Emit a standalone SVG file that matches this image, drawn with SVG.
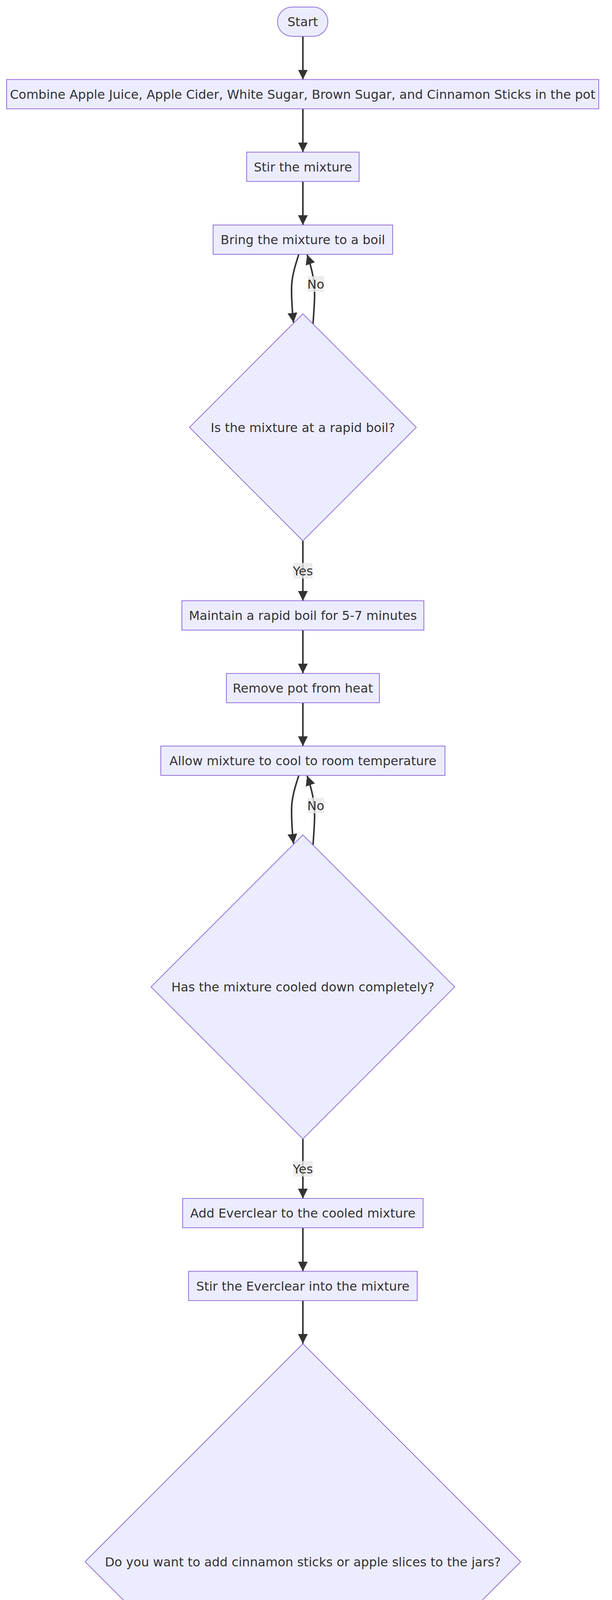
<svg xmlns="http://www.w3.org/2000/svg" width="1568" height="5416" viewBox="0 0 1568 5416">
<defs>
<marker id="arrow" viewBox="0 0 10 10" refX="10" refY="5" markerUnits="userSpaceOnUse" markerWidth="25" markerHeight="26" orient="auto">
<path d="M0,0 L10,5 L0,10 z" fill="#333333"/>
</marker>
</defs>
<style>
.node{fill:#ECECFF;stroke:#9370DB;stroke-width:2}
.t{font-family:"DejaVu Sans","Verdana",sans-serif;font-size:32px;fill:#333333;text-anchor:middle}
.edge{fill:none;stroke:#333333;stroke-width:4;marker-end:url(#arrow)}
.lbl{fill:#e8e8e8;fill-opacity:0.8}
</style>
<rect x="0" y="0" width="1568" height="5416" fill="#ffffff"/>

<g id="connectors">
<path class="edge" d="M776,93 L776,203.5"/>
<path class="edge" d="M776,278.5 L776,389.5"/>
<path class="edge" d="M776,464.5 L776,576"/>
<path class="edge" d="M765.5,651 C758,676 747,705 747,740 C747,775 749,800 752,826"/>
<path class="edge" d="M802,829 C804,800 806,775 806,755 C806,720 800,690 787,652"/>
<path class="edge" d="M776,1384.5 L776,1538"/>
<path class="edge" d="M776,1613 L776,1724"/>
<path class="edge" d="M776,1799 L776,1910"/>
<path class="edge" d="M765.5,1985 C758,2010 747,2039 747,2074 C747,2109 749,2134 752,2160"/>
<path class="edge" d="M802,2163 C804,2134 806,2109 806,2089 C806,2054 800,2024 787,1986"/>
<path class="edge" d="M776,2915.5 L776,3068"/>
<path class="edge" d="M776,3143 L776,3254.5"/>
<path class="edge" d="M776,3329.5 L776,3440"/>
<path class="edge" d="M623,4403 C590,4495 553,4580 543,4640 C535,4690 535,4720 535,4760 C535,4800 545,4830 580,4852 C610,4870 640,4882 676,4895"/>
<path class="edge" d="M930,4402 C955,4470 985,4545 1000,4600 C1012,4640 1017,4665 1017.5,4708"/>
<path class="edge" d="M1018,4783 C1018,4810 1012,4830 985,4848 C955,4866 910,4882 873,4895"/>
<path class="edge" d="M776,4970 L776,5081"/>
<path class="edge" d="M776,5156 L776,5267.5"/>
<g id="edge-labels">
<rect class="lbl" x="788" y="707" width="42" height="40"/>
<text class="t" x="809" y="738.5">No</text>
<rect class="lbl" x="751" y="1441" width="50" height="40"/>
<text class="t" x="776" y="1472.5">Yes</text>
<rect class="lbl" x="788" y="2042" width="42" height="40"/>
<text class="t" x="809" y="2073.5">No</text>
<rect class="lbl" x="751" y="2972" width="50" height="40"/>
<text class="t" x="776" y="3003.5">Yes</text>
<rect class="lbl" x="993" y="4612" width="50" height="40"/>
<text class="t" x="1018" y="4643.5">Yes</text>
<rect class="lbl" x="513" y="4727" width="41" height="40"/>
<text class="t" x="533.5" y="4758.5">No</text>
</g>
</g>

<g id="start"><rect class="node" x="711" y="18" width="129" height="75" rx="37.5" ry="37.5"/><text class="t" x="775.5" y="67">Start</text></g>
<g id="combine"><rect class="node" x="17" y="203.5" width="1517" height="75"/><text class="t" x="775.5" y="252.5">Combine Apple Juice, Apple Cider, White Sugar, Brown Sugar, and Cinnamon Sticks in the pot</text></g>
<g id="stir"><rect class="node" x="632" y="389.5" width="288" height="75"/><text class="t" x="776" y="438.5">Stir the mixture</text></g>
<g id="boil"><rect class="node" x="546" y="576" width="460" height="75"/><text class="t" x="776" y="625">Bring the mixture to a boil</text></g>
<g id="rapid-boil"><polygon class="node" points="776,803.5 1066.5,1094 776,1384.5 485.5,1094"/><text class="t" x="776" y="1105.5">Is the mixture at a rapid boil?</text></g>
<g id="maintain"><rect class="node" x="466" y="1538" width="620" height="75"/><text class="t" x="776" y="1587">Maintain a rapid boil for 5-7 minutes</text></g>
<g id="remove"><rect class="node" x="580" y="1724" width="392" height="75"/><text class="t" x="776" y="1773">Remove pot from heat</text></g>
<g id="cool"><rect class="node" x="412" y="1910" width="728" height="75"/><text class="t" x="776" y="1959">Allow mixture to cool to room temperature</text></g>
<g id="cooled"><polygon class="node" points="776,2137.5 1165,2526.5 776,2915.5 387,2526.5"/><text class="t" x="776" y="2538">Has the mixture cooled down completely?</text></g>
<g id="add-everclear"><rect class="node" x="468" y="3068" width="616" height="75"/><text class="t" x="776" y="3117">Add Everclear to the cooled mixture</text></g>
<g id="stir-everclear"><rect class="node" x="483" y="3254.5" width="586" height="75"/><text class="t" x="776" y="3303.5">Stir the Everclear into the mixture</text></g>
<g id="add-question"><polygon class="node" points="776,3440 1334,3998 776,4556 218,3998"/><text class="t" x="776" y="4009.5">Do you want to add cinnamon sticks or apple slices to the jars?</text></g>
<g id="add-cinnamon"><rect class="node" x="632" y="4708" width="772" height="75"/><text class="t" x="1018" y="4757">Add cinnamon stick or apple slices to each jar</text></g>
<g id="funnel"><rect class="node" x="329" y="4895" width="894" height="75"/><text class="t" x="776" y="4944">Use the funnel to fill the mason jars with the mixture</text></g>
<g id="output"><polygon class="node" points="552.5,5081 1036.5,5081 1000,5156 515,5156"/><text class="t" x="776" y="5130">Apple Pie Moonshine in jars</text></g>
<g id="end"><rect class="node" x="721" y="5267.5" width="110" height="75" rx="37.5" ry="37.5"/><text class="t" x="776" y="5316.5">End</text></g>
</svg>
